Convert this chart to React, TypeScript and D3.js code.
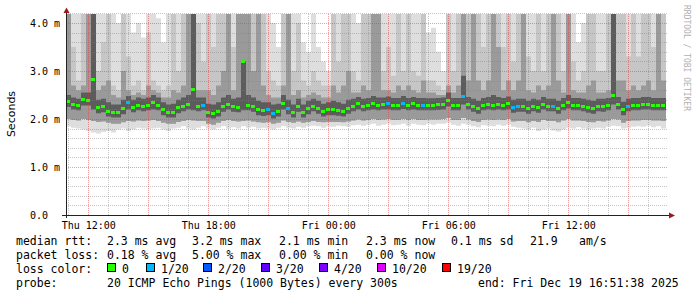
import React from "react";
import * as d3 from "d3";

const START = new Date(2025, 11, 18, 10, 51, 38);
const END = new Date(2025, 11, 19, 16, 51, 38);
const STEP_MIN = 15;

const median = [
  2.38, 2.31, 2.3, 2.42, 2.4, 2.83, 2.25, 2.27, 2.17, 2.15,
  2.15, 2.23, 2.35, 2.26, 2.3, 2.28, 2.3, 2.35, 2.3, 2.2,
  2.15, 2.15, 2.25, 2.28, 2.32, 2.62, 2.28, 2.3, 2.15, 2.13,
  2.17, 2.28, 2.32, 2.27, 2.26, 3.2, 2.3, 2.27, 2.2, 2.18,
  2.2, 2.13, 2.17, 2.33, 2.22, 2.15, 2.27, 2.15, 2.22, 2.28,
  2.23, 2.17, 2.2, 2.2, 2.19, 2.17, 2.23, 2.28, 2.33, 2.28,
  2.3, 2.33, 2.3, 2.32, 2.33, 2.3, 2.3, 2.34, 2.3, 2.33,
  2.3, 2.3, 2.3, 2.3, 2.31, 2.32, 2.4, 2.3, 2.3, 2.47,
  2.32, 2.27, 2.23, 2.3, 2.32, 2.3, 2.32, 2.3, 2.33, 2.25,
  2.27, 2.27, 2.23, 2.28, 2.25, 2.32, 2.28, 2.28, 2.23, 2.3,
  2.35, 2.3, 2.3, 2.28, 2.25, 2.23, 2.28, 2.27, 2.3, 2.5,
  2.32, 2.2, 2.28, 2.3, 2.3, 2.32, 2.32, 2.3, 2.3, 2.3,
];

const lossCount = [
  0, 0, 0, 0, 0, 0, 0, 0, 0, 0,
  0, 0, 1, 0, 0, 0, 0, 0, 0, 0,
  0, 0, 0, 0, 0, 0, 0, 1, 0, 0,
  0, 0, 0, 0, 0, 0, 0, 0, 0, 0,
  1, 1, 0, 0, 1, 0, 0, 0, 0, 0,
  0, 0, 0, 0, 0, 0, 0, 0, 0, 0,
  0, 0, 0, 0, 1, 0, 0, 1, 0, 0,
  0, 1, 0, 0, 0, 0, 0, 0, 0, 1,
  0, 0, 0, 0, 0, 0, 0, 0, 0, 1,
  1, 0, 0, 0, 0, 0, 0, 1, 0, 0,
  0, 0, 0, 0, 0, 0, 0, 0, 0, 0,
  0, 0, 1, 0, 0, 0, 0, 0, 0, 0,
];

// outermost smoke (max ping)
const smokeHi1 = [
  4.3, 4.3, 4.3, 4.3, 4.3, 4.3, 4.3, 4.3, 4.3, 4.3,
  4.0, 4.3, 4.3, 3.8, 4.0, 3.7, 4.3, 4.3, 4.1, 3.6,
  4.3, 4.3, 4.3, 4.3, 4.3, 4.3, 4.3, 4.3, 4.3, 4.3,
  4.3, 4.3, 4.3, 4.3, 4.3, 4.3, 4.3, 4.3, 4.3, 4.3,
  4.3, 4.0, 3.5, 4.3, 4.3, 4.3, 4.3, 3.6, 3.4, 4.3,
  3.5, 3.2, 3.0, 4.3, 4.3, 4.3, 4.3, 4.3, 4.0, 4.3,
  4.3, 4.3, 4.3, 4.3, 4.3, 4.3, 4.3, 4.3, 4.3, 4.3,
  4.3, 4.3, 3.8, 3.9, 3.4, 3.0, 4.3, 4.3, 4.3, 4.3,
  4.3, 4.3, 4.3, 4.3, 4.3, 4.3, 4.3, 4.3, 4.3, 4.3,
  4.3, 4.3, 4.3, 4.3, 4.3, 4.3, 4.3, 4.3, 4.3, 4.3,
  4.3, 4.3, 3.6, 4.0, 4.3, 4.3, 4.3, 4.3, 4.3, 4.3,
  4.3, 4.3, 4.3, 4.3, 4.3, 4.3, 4.3, 4.3, 4.3, 4.3,
];

const smokeHi2 = [
  4.3, 3.5, 2.8, 4.3, 4.3, 4.3, 3.0, 3.6, 4.3, 2.7,
  2.6, 4.3, 3.3, 2.7, 2.8, 2.6, 3.8, 2.8, 2.7, 2.6,
  2.7, 4.3, 3.0, 4.3, 4.3, 4.3, 4.0, 3.2, 4.3, 3.5,
  4.3, 4.3, 4.3, 3.5, 4.3, 4.3, 4.3, 4.3, 4.3, 4.3,
  3.0, 2.8, 2.7, 4.3, 4.3, 3.0, 4.0, 2.8, 2.7, 3.0,
  2.8, 2.7, 2.7, 4.3, 3.2, 4.3, 4.3, 3.0, 2.8, 4.3,
  4.3, 4.3, 4.3, 3.0, 3.5, 2.9, 4.3, 3.0, 4.3, 3.0,
  2.9, 4.3, 2.8, 2.8, 2.7, 2.6, 4.3, 3.0, 4.3, 4.3,
  4.3, 4.3, 4.3, 3.5, 4.3, 4.3, 4.3, 3.5, 4.3, 3.2,
  4.3, 4.3, 3.3, 3.0, 4.3, 3.0, 4.3, 4.3, 4.3, 3.0,
  4.3, 3.2, 2.8, 3.0, 4.3, 4.3, 3.0, 3.0, 4.3, 4.3,
  4.3, 4.3, 3.3, 4.3, 3.3, 4.3, 4.3, 3.5, 4.3, 4.3,
];

const smokeHi3 = [
  4.3, 2.7, 2.6, 2.7, 4.3, 4.3, 2.6, 2.7, 2.8, 2.5,
  2.45, 3.0, 2.6, 2.5, 2.55, 2.5, 2.7, 2.6, 2.55, 2.45,
  2.45, 2.6, 2.55, 2.7, 4.3, 4.3, 2.6, 2.6, 2.6, 2.5,
  2.7, 3.0, 4.3, 2.6, 4.3, 4.3, 4.3, 3.0, 4.3, 2.7,
  2.5, 2.45, 2.45, 2.7, 4.3, 2.5, 2.6, 2.45, 2.5, 2.55,
  2.5, 2.45, 2.45, 2.7, 2.55, 2.7, 3.0, 2.55, 2.55, 2.7,
  2.6, 4.3, 4.3, 2.6, 2.6, 2.55, 2.7, 2.6, 2.7, 2.6,
  2.55, 2.8, 2.55, 2.55, 2.5, 2.5, 2.7, 2.55, 2.7, 4.3,
  2.8, 4.3, 2.8, 2.6, 2.8, 4.3, 3.5, 2.6, 2.8, 2.6,
  2.8, 4.3, 2.6, 2.55, 2.7, 2.6, 2.7, 4.3, 2.8, 2.55,
  4.3, 2.6, 2.55, 2.55, 2.7, 2.8, 2.55, 2.55, 2.6, 4.3,
  2.8, 2.8, 2.6, 2.7, 2.6, 2.7, 2.8, 2.6, 4.3, 2.8,
];

// dark core, upper edge
const smokeHi4 = [
  2.5, 2.45, 2.42, 2.55, 2.55, 4.3, 2.4, 2.42, 2.35, 2.3,
  2.3, 2.4, 2.48, 2.4, 2.45, 2.42, 2.45, 2.5, 2.45, 2.35,
  2.3, 2.32, 2.4, 2.45, 2.5, 4.3, 2.45, 2.45, 2.32, 2.3,
  2.35, 2.45, 2.5, 2.42, 2.45, 3.2, 2.5, 2.45, 2.38, 2.35,
  2.35, 2.3, 2.32, 2.5, 2.4, 2.3, 2.42, 2.3, 2.38, 2.42,
  2.38, 2.32, 2.35, 2.38, 2.35, 2.32, 2.4, 2.42, 2.46, 2.42,
  2.44, 2.48, 2.45, 2.45, 2.47, 2.44, 2.44, 2.48, 2.44, 2.46,
  2.44, 2.44, 2.43, 2.43, 2.44, 2.45, 2.55, 2.44, 2.44, 2.9,
  2.46, 2.42, 2.38, 2.44, 2.46, 2.5, 2.46, 2.44, 2.47, 2.4,
  2.42, 2.42, 2.38, 2.42, 2.4, 2.46, 2.42, 2.42, 2.38, 2.44,
  2.5, 2.44, 2.44, 2.42, 2.4, 2.38, 2.42, 2.42, 2.44, 4.3,
  2.46, 2.36, 2.42, 2.44, 2.44, 2.46, 2.46, 2.44, 2.44, 2.44,
];

// dark core, lower edge
const smokeLo3 = [
  2.25, 2.2, 2.18, 2.28, 2.28, 2.2, 2.12, 2.14, 2.05, 2.03,
  2.03, 2.1, 2.2, 2.14, 2.18, 2.16, 2.18, 2.2, 2.18, 2.08,
  2.03, 2.03, 2.12, 2.16, 2.2, 2.18, 2.16, 2.18, 2.03, 2.01,
  2.05, 2.15, 2.2, 2.15, 2.14, 2.18, 2.18, 2.15, 2.08, 2.06,
  2.08, 2.01, 2.05, 2.2, 2.1, 2.03, 2.15, 2.03, 2.1, 2.16,
  2.11, 2.05, 2.08, 2.08, 2.07, 2.05, 2.11, 2.16, 2.2, 2.16,
  2.18, 2.2, 2.18, 2.2, 2.2, 2.18, 2.18, 2.21, 2.18, 2.2,
  2.18, 2.18, 2.18, 2.18, 2.19, 2.2, 2.26, 2.18, 2.18, 2.3,
  2.2, 2.15, 2.11, 2.18, 2.2, 2.18, 2.2, 2.18, 2.2, 2.13,
  2.15, 2.15, 2.11, 2.16, 2.13, 2.2, 2.16, 2.16, 2.11, 2.18,
  2.22, 2.18, 2.18, 2.16, 2.13, 2.11, 2.16, 2.15, 2.18, 2.3,
  2.2, 2.08, 2.16, 2.18, 2.18, 2.2, 2.2, 2.18, 2.18, 2.18,
];

const smokeLo2 = [
  2.0, 1.98, 1.97, 2.0, 1.98, 1.96, 1.94, 1.95, 1.92, 1.9,
  1.9, 1.93, 1.96, 1.95, 1.97, 1.96, 1.97, 1.98, 1.96, 1.92,
  1.9, 1.9, 1.94, 1.96, 1.98, 1.97, 1.96, 1.96, 1.9, 1.88,
  1.92, 1.96, 1.98, 1.96, 1.95, 1.96, 1.97, 1.95, 1.93, 1.92,
  1.93, 1.9, 1.92, 1.97, 1.94, 1.92, 1.95, 1.92, 1.94, 1.96,
  1.94, 1.93, 1.94, 1.94, 1.94, 1.93, 1.95, 1.97, 1.99, 1.97,
  1.98, 2.0, 1.98, 1.99, 2.0, 1.98, 1.98, 2.0, 1.98, 2.0,
  1.98, 1.98, 1.99, 1.99, 1.99, 2.0, 2.02, 1.98, 1.98, 2.02,
  1.99, 1.96, 1.94, 1.98, 1.99, 1.98, 1.99, 1.98, 2.0, 1.95,
  1.96, 1.96, 1.93, 1.96, 1.94, 1.98, 1.96, 1.96, 1.93, 1.97,
  2.0, 1.97, 1.97, 1.96, 1.94, 1.93, 1.96, 1.95, 1.97, 2.0,
  1.99, 1.92, 1.96, 1.97, 1.97, 1.98, 1.98, 1.97, 1.97, 1.96,
];

// outermost smoke (min ping)
const smokeLo1 = [
  1.85, 1.82, 1.8, 1.78, 1.75, 1.72, 1.7, 1.73, 1.75, 1.72,
  1.78, 1.8, 1.75, 1.78, 1.82, 1.8, 1.78, 1.8, 1.82, 1.78,
  1.75, 1.8, 1.82, 1.85, 1.8, 1.78, 1.82, 1.85, 1.8, 1.78,
  1.82, 1.85, 1.8, 1.83, 1.8, 1.85, 1.82, 1.84, 1.8, 1.82,
  1.8, 1.78, 1.82, 1.85, 1.82, 1.8, 1.84, 1.82, 1.85, 1.86,
  1.85, 1.82, 1.85, 1.84, 1.86, 1.85, 1.84, 1.87, 1.88, 1.86,
  1.88, 1.9, 1.86, 1.88, 1.9, 1.87, 1.88, 1.9, 1.86, 1.9,
  1.88, 1.87, 1.9, 1.88, 1.9, 1.9, 1.92, 1.88, 1.86, 1.9,
  1.88, 1.85, 1.83, 1.87, 1.86, 1.85, 1.88, 1.86, 1.88, 1.84,
  1.82, 1.8, 1.78, 1.82, 1.75, 1.78, 1.8, 1.76, 1.74, 1.78,
  1.82, 1.8, 1.83, 1.8, 1.78, 1.8, 1.82, 1.8, 1.84, 1.86,
  1.85, 1.8, 1.82, 1.84, 1.85, 1.84, 1.86, 1.83, 1.85, 1.8,
];

const yMajorTicks = [1, 2, 3, 4];
const yTickLabels = ["0.0", "1.0 m", "2.0 m", "3.0 m", "4.0 m"];

const lossLabels = ["0", "1/20", "2/20", "3/20", "4/20", "10/20", "19/20"];
const lossThresh = [0, 1, 2, 3, 4, 10, 19];
const lossColors = ["#26ff00", "#00b8ff", "#0059ff", "#5e00ff", "#7e00ff", "#dd00ff", "#ff0000"];

const rttLegend = ["2.3 ms avg", "3.2 ms max", "2.1 ms min", "2.3 ms now", "0.1 ms sd", "21.9", "am/s"];
const lossLegend = ["0.18 % avg", "5.00 % max", "0.00 % min", "0.00 % now"];
const probeText = "20 ICMP Echo Pings (1000 Bytes) every 300s";
const endText = "end: Fri Dec 19 16:51:38 2025";

const MONO = "'DejaVu Sans Mono', monospace";

export default function App() {
  const W = 697;
  const H = 297;
  const left = 66;
  const right = 666;
  const bottom = 215;
  const top = 14;

  const x = d3.scaleTime().domain([START, END]).range([left, right]);
  const y = d3.scaleLinear().domain([0, 1]).range([bottom, bottom - 48]);

  const N = median.length;
  const tAt = (i: number) => d3.timeMinute.offset(START, i * STEP_MIN);
  const idx = d3.range(N + 1);
  const val = (arr: number[], i: number) => arr[Math.min(i, N - 1)];

  const band = (lo: number[], hi: number[]) =>
    d3
      .area<number>()
      .x((i) => x(tAt(i)))
      .y0((i) => y(val(lo, i)))
      .y1((i) => y(val(hi, i)))
      .curve(d3.curveStepAfter)(idx) || "";

  const layers = [
    { lo: smokeLo1, hi: smokeHi1, color: "#dedede" },
    { lo: smokeLo2, hi: smokeHi2, color: "#c6c6c6" },
    { lo: smokeLo2, hi: smokeHi3, color: "#9a9a9a" },
    { lo: smokeLo3, hi: smokeHi4, color: "#5c5c5c" },
  ];

  const colorFor = (c: number) => {
    let col = lossColors[0];
    lossThresh.forEach((t, k) => {
      if (c >= t) col = lossColors[k];
    });
    return col;
  };

  const hours = d3.timeHour.range(START, END);
  const minorX = hours.filter((h) => h.getHours() % 3 !== 0);
  const majorX = hours.filter((h) => h.getHours() % 3 === 0);
  const labelX = hours.filter((h) => h.getHours() % 6 === 0);
  const fmt = d3.timeFormat("%a %H:%M");

  const minorY = d3.range(1, 22).filter((k) => k % 5 !== 0).map((k) => k / 5);

  const px = (v: number) => Math.round(v) + 0.5;
  const pxX = (d: Date) => Math.floor(x(d)) + 0.5;

  const legendCol = [107, 192, 279, 366, 451, 530, 579];
  const boxX = [107, 146, 203, 261, 319, 377, 442];
  const rowY = [245, 259, 273, 287];

  const minorGrid = "rgba(128,128,128,0.45)";
  const majorGrid = "rgba(215,60,60,0.5)";

  return (
    <svg
      width={W}
      height={H}
      style={{ position: "absolute", left: 0, top: 0, background: "#fff" }}
      fontFamily={MONO}
    >
      <rect x={0} y={0} width={W} height={H} fill="#ffffff" />
      <defs>
        <clipPath id="plot">
          <rect x={left} y={top} width={right - left} height={bottom - top} />
        </clipPath>
      </defs>

      <g clipPath="url(#plot)">
        {layers.map((l, k) => (
          <path key={k} d={band(l.lo, l.hi)} fill={l.color} />
        ))}
      </g>

      {/* grid */}
      <g strokeWidth={1} strokeDasharray="1,1" fill="none">
        {minorY.map((v) => (
          <line key={"my" + v} x1={left} x2={right + 2} y1={px(y(v))} y2={px(y(v))} stroke={minorGrid} />
        ))}
        {minorX.map((d) => (
          <line key={"mx" + d.getTime()} x1={pxX(d)} x2={pxX(d)} y1={top} y2={bottom} stroke={minorGrid} />
        ))}
        {yMajorTicks.map((v) => (
          <line key={"My" + v} x1={left} x2={right + 2} y1={px(y(v))} y2={px(y(v))} stroke={majorGrid} />
        ))}
        {majorX.map((d) => (
          <line key={"Mx" + d.getTime()} x1={pxX(d)} x2={pxX(d)} y1={top} y2={bottom} stroke={majorGrid} />
        ))}
      </g>

      {/* median */}
      <g clipPath="url(#plot)" shapeRendering="crispEdges">
        {median.map((m, i) => {
          const a = x(tAt(i));
          const b = x(tAt(i + 1));
          return (
            <rect
              key={i}
              x={a}
              width={b - a - 1}
              y={Math.round(y(m)) - 1}
              height={3}
              fill={colorFor(lossCount[i])}
            />
          );
        })}
      </g>

      {/* axes */}
      <line x1={left + 0.5} x2={left + 0.5} y1={bottom + 3} y2={10} stroke="#222" />
      <line x1={left - 4} x2={right + 4} y1={bottom + 0.5} y2={bottom + 0.5} stroke="#222" />
      <polygon
        points={`${left - 2.5},${13} ${left + 3.5},${13} ${left + 0.5},${7.5}`}
        fill="#9a1a1a"
      />
      <polygon
        points={`${right + 3},${bottom - 2.5} ${right + 3},${bottom + 3.5} ${right + 9},${bottom + 0.5}`}
        fill="#9a1a1a"
      />

      {/* y labels */}
      {yTickLabels.map((t, k) => (
        <text key={t} x={30} y={y(k) + 3.6} fontSize={10} fill="#000">
          {t}
        </text>
      ))}
      {/* x labels */}
      {labelX.map((d) => (
        <text key={d.getTime()} x={x(d)} y={229} fontSize={10} textAnchor="middle" fill="#000">
          {fmt(d)}
        </text>
      ))}

      <text
        transform={`translate(15,114) rotate(-90)`}
        textAnchor="middle"
        fontSize={11}
        fontFamily="'DejaVu Sans', sans-serif"
        fill="#000"
      >
        Seconds
      </text>
      <text transform={`translate(684,5) rotate(90)`} fontSize={8} fill="#b0b0b0">
        RRDTOOL / TOBI OETIKER
      </text>

      {/* legend */}
      <g fontSize={11.5} fill="#000">
        <text x={16} y={rowY[0]}>median rtt:</text>
        {rttLegend.map((t, k) => (
          <text key={"r" + k} x={legendCol[k]} y={rowY[0]}>
            {t}
          </text>
        ))}
        <text x={16} y={rowY[1]}>packet loss:</text>
        {lossLegend.map((t, k) => (
          <text key={"l" + k} x={legendCol[k]} y={rowY[1]}>
            {t}
          </text>
        ))}
        <text x={16} y={rowY[2]}>loss color:</text>
        {lossLabels.map((t, k) => (
          <g key={"c" + k}>
            <rect
              x={boxX[k] + 0.5}
              y={rowY[2] - 9.5}
              width={8}
              height={8}
              fill={lossColors[k]}
              stroke="#000"
              strokeWidth={1}
            />
            <text x={boxX[k] + 15} y={rowY[2]}>
              {t}
            </text>
          </g>
        ))}
        <text x={16} y={rowY[3]}>probe:</text>
        <text x={107} y={rowY[3]}>{probeText}</text>
        <text x={478} y={rowY[3]}>{endText}</text>
      </g>
    </svg>
  );
}
